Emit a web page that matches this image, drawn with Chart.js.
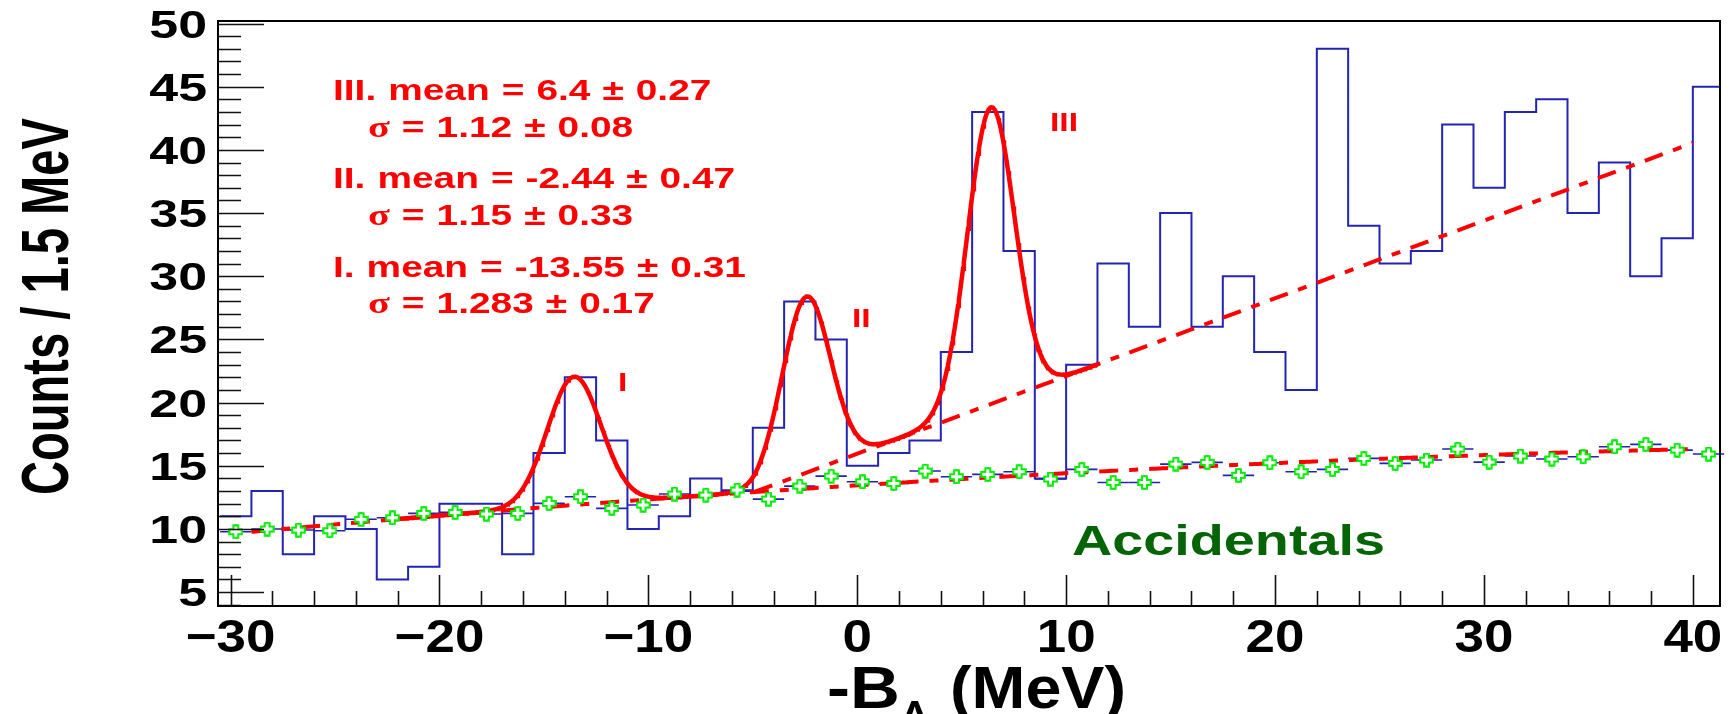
<!DOCTYPE html>
<html>
<head>
<meta charset="utf-8">
<title>-B_Λ spectrum</title>
<style>
  html, body { margin: 0; padding: 0; background: #ffffff; }
  canvas { display: block; }
</style>
<script src="https://cdn.jsdelivr.net/npm/chart.js@4.4.1/dist/chart.umd.min.js"></script>
</head>
<body>
<canvas id="spectrum" width="1735" height="714"></canvas>
<script>
// ---- Binning: 1.5 MeV bins, low edges ----
const binWidth = 1.5;
const binLowEdges = [-30.5, -29, -27.5, -26, -24.5, -23, -21.5, -20, -18.5, -17,
  -15.5, -14, -12.5, -11, -9.5, -8, -6.5, -5, -3.5, -2,
  -0.5, 1, 2.5, 4, 5.5, 7, 8.5, 10, 11.5, 13,
  14.5, 16, 17.5, 19, 20.5, 22, 23.5, 25, 26.5, 28,
  29.5, 31, 32.5, 34, 35.5, 37, 38.5, 40];

// ---- Measured counts per bin ----
const counts = [11, 13, 8, 11, 10, 6, 7, 12, 12, 8,
  16, 22, 17, 10, 11, 14, 13, 18, 28, 25,
  15, 16, 17, 24, 43, 32, 14, 23, 31, 26,
  35, 26, 30, 24, 21, 48, 34, 31, 32, 42,
  37, 43, 44, 35, 39, 30, 33, 45];

// ---- Accidental coincidences (scaled), with errors ----
const accidentals = [9.78, 9.99, 9.91, 9.86, 10.76, 10.88, 11.23, 11.31, 11.18, 11.23,
  12.02, 12.55, 11.63, 11.89, 12.76, 12.68, 13.08, 12.36, 13.39, 14.18,
  13.73, 13.6, 14.58, 14.13, 14.32, 14.53, 13.95, 14.71, 13.68, 13.68,
  15.13, 15.27, 14.24, 15.24, 14.53, 14.71, 15.58, 15.19, 15.45, 16.32,
  15.29, 15.77, 15.53, 15.71, 16.5, 16.69, 16.24, 15.93];
const accErrors = [0.55, 0.55, 0.55, 0.55, 0.55, 0.55, 0.55, 0.55, 0.55, 0.55,
  0.55, 0.55, 0.55, 0.55, 0.55, 0.55, 0.55, 0.55, 0.55, 0.55,
  0.55, 0.55, 0.55, 0.55, 0.55, 0.55, 0.55, 0.55, 0.55, 0.55,
  0.55, 0.55, 0.55, 0.55, 0.55, 0.55, 0.55, 0.55, 0.55, 0.55,
  0.55, 0.55, 0.55, 0.55, 0.55, 0.55, 0.55, 0.55];

// ---- Fit results: three Gaussian peaks on a background ----
const peakLabels = ['I', 'II', 'III'];
const peakMeans = [-13.55, -2.44, 6.4];
const peakMeanErrs = [0.31, 0.47, 0.27];
const peakSigmas = [1.283, 1.15, 1.12];
const peakSigmaErrs = [0.17, 0.33, 0.08];
const peakAmplitudes = [10.15, 13.93, 23.48];
const peakFitRange = [-22.4, 11.5];

// accidental background: p0 + p1*x + p2*x^2
const accFitCoeffs = [13.45, 0.1038, -0.0008];
const accFitRange = [-29, 40];
// physical background under the peaks: p0 + p1*x
const bgLineCoeffs = [15.95, 0.615];

// ---- Axes ----
const xTicks = [-30, -20, -10, 0, 10, 20, 30, 40];
const yTicks = [5, 10, 15, 20, 25, 30, 35, 40, 45, 50];
const xRange = [-30.6, 41.3];
const yRange = [3.9, 50.2];

// ---- Fit functions ----
const accFit = x => accFitCoeffs[0] + accFitCoeffs[1] * x + accFitCoeffs[2] * x * x;
const bgLine = x => bgLineCoeffs[0] + bgLineCoeffs[1] * x;
const gauss = (x, i) => peakAmplitudes[i] * Math.exp(-0.5 * Math.pow((x - peakMeans[i]) / peakSigmas[i], 2));
const totalFit = x => Math.max(accFit(x), bgLine(x)) + peakMeans.reduce((s, _, i) => s + gauss(x, i), 0);

function sample(fn, a, b, step) {
  const pts = [];
  const n = Math.round((b - a) / step);
  for (let k = 0; k <= n; k++) {
    const x = a + (b - a) * k / n;
    pts.push({ x, y: fn(x) });
  }
  return pts;
}

// histogram outline: left edges + closing right edge
const histPoints = binLowEdges.map((e, i) => ({ x: e, y: counts[i] }));
histPoints.push({ x: binLowEdges[binLowEdges.length - 1] + binWidth, y: counts[counts.length - 1] });

const accPoints = binLowEdges.map((e, i) => ({ x: e + binWidth / 2, y: accidentals[i] }));
const accCurve = sample(accFit, accFitRange[0], accFitRange[1], 0.1);
const fitCurve = sample(totalFit, peakFitRange[0], peakFitRange[1], 0.04);

// straight background, drawn from where it rises above the accidental curve
let bgStart = accFitRange[0];
for (let x = accFitRange[0]; x <= accFitRange[1]; x += 0.01) {
  if (bgLine(x) >= accFit(x)) { bgStart = x; break; }
}
const bgCurve = [{ x: bgStart, y: bgLine(bgStart) }, { x: accFitRange[1], y: bgLine(accFitRange[1]) }];

// ---- Colours / styles ----
const HIST_BLUE = '#2424b2';
const FIT_RED = '#ff0000';
const MARK_GREEN = '#00ee00';
const TEXT_GREEN = '#056405';
const DASH = [19, 11, 9, 11];

// open-cross marker
function makeOpenCross() {
  const c = document.createElement('canvas');
  c.width = 15; c.height = 15;
  const g = c.getContext('2d');
  const cx = 7.5, cy = 7.5, a = 2.4, r = 6.3;
  g.beginPath();
  g.moveTo(cx - a, cy - r); g.lineTo(cx + a, cy - r); g.lineTo(cx + a, cy - a);
  g.lineTo(cx + r, cy - a); g.lineTo(cx + r, cy + a); g.lineTo(cx + a, cy + a);
  g.lineTo(cx + a, cy + r); g.lineTo(cx - a, cy + r); g.lineTo(cx - a, cy + a);
  g.lineTo(cx - r, cy + a); g.lineTo(cx - r, cy - a); g.lineTo(cx - a, cy - a);
  g.closePath();
  g.fillStyle = '#ffffff';
  g.fill();
  g.strokeStyle = MARK_GREEN;
  g.lineWidth = 2;
  g.stroke();
  return c;
}

// ---- Text helper (scaled bold type) ----
function drawText(ctx, s, x, y, font, color, sx, sy, align) {
  ctx.save();
  ctx.translate(x, y);
  ctx.scale(sx || 1, sy || 1);
  ctx.font = font;
  ctx.fillStyle = color;
  ctx.textAlign = align || 'left';
  ctx.textBaseline = 'alphabetic';
  ctx.fillText(s, 0, 0);
  ctx.restore();
}
function textWidth(ctx, s, font) {
  ctx.save(); ctx.font = font; const w = ctx.measureText(s).width; ctx.restore(); return w;
}
// draw tokens in sequence with a fixed gap; returns end x
function drawTokens(ctx, tokens, x, y, color, sx, gap) {
  let cx = x;
  tokens.forEach(t => {
    drawText(ctx, t.s, cx, y, t.font, color, sx, 1, 'left');
    cx += textWidth(ctx, t.s, t.font) * sx + gap;
  });
  return cx;
}

const SANS = '"Liberation Sans", Arial, Helvetica, sans-serif';
const SERIF = '"Liberation Serif", "Times New Roman", serif';
const fmtTick = v => (v < 0 ? '\u2212' + Math.abs(v) : String(v));

// error bars for the accidental points
const errorBars = {
  id: 'errorBars',
  beforeDatasetsDraw(chart) {
    const { ctx, scales: { x, y } } = chart;
    ctx.save();
    ctx.strokeStyle = HIST_BLUE;
    ctx.lineWidth = 1.6;
    accPoints.forEach((p, i) => {
      const px = x.getPixelForValue(p.x);
      const py = y.getPixelForValue(p.y);
      ctx.beginPath();
      ctx.moveTo(x.getPixelForValue(p.x - binWidth / 2), py);
      ctx.lineTo(x.getPixelForValue(p.x + binWidth / 2), py);
      ctx.moveTo(px, y.getPixelForValue(p.y - accErrors[i]));
      ctx.lineTo(px, y.getPixelForValue(p.y + accErrors[i]));
      ctx.stroke();
    });
    ctx.restore();
  }
};

// frame, inward ticks, tick labels, titles and annotations
const frameAndText = {
  id: 'frameAndText',
  afterDraw(chart) {
    const { ctx, chartArea: ca, scales: { x, y } } = chart;
    ctx.save();
    // ticks
    ctx.strokeStyle = '#111111';
    ctx.lineWidth = 1.6;
    ctx.beginPath();
    for (let v = Math.ceil(yRange[0]); v <= yRange[1]; v++) {
      const py = Math.round(y.getPixelForValue(v)) + 0.5;
      const len = yTicks.includes(v) ? 46 : 23;
      ctx.moveTo(ca.left, py); ctx.lineTo(ca.left + len, py);
    }
    for (let v = xTicks[0]; v <= xRange[1]; v += 2) {
      const px = Math.round(x.getPixelForValue(v)) + 0.5;
      const len = xTicks.includes(v) ? 31 : 15;
      ctx.moveTo(px, ca.bottom); ctx.lineTo(px, ca.bottom - len);
    }
    ctx.stroke();
    // frame
    ctx.strokeStyle = '#000000';
    ctx.lineWidth = 2;
    ctx.strokeRect(ca.left, ca.top, ca.right - ca.left, ca.bottom - ca.top);
    ctx.restore();

    // tick labels
    const yTickFont = 'bold 39px ' + SANS;
    yTicks.forEach(v => {
      drawText(ctx, fmtTick(v), 207, y.getPixelForValue(v) + 14, yTickFont, '#000', 1.33, 1, 'right');
    });
    const xTickFont = 'bold 46px ' + SANS;
    xTicks.forEach(v => {
      drawText(ctx, fmtTick(v), x.getPixelForValue(v), 652, xTickFont, '#000', 1.15, 1, 'center');
    });

    // axis titles
    const yTitle = 'Counts / 1.5 MeV';
    const yFont = 'bold 50px ' + SANS;
    ctx.save();
    ctx.translate(68, 495);
    ctx.rotate(-Math.PI / 2);
    drawText(ctx, yTitle, 0, 0, yFont, '#000', 377 / textWidth(ctx, yTitle, yFont), 1.34, 'left');
    ctx.restore();

    const xFont = 'bold 60px ' + SANS;
    drawText(ctx, '-B', 827, 708, xFont, '#000', 1.15, 1, 'left');
    drawText(ctx, '\u039B', 900, 729, 'bold 40px ' + SANS, '#000', 1.1, 1, 'left');
    drawText(ctx, '(MeV)', 950, 708, xFont, '#000', 176 / textWidth(ctx, '(MeV)', xFont), 1, 'left');

    // fit results
    const rf = 'bold 29px ' + SANS;
    const sf = 'bold 30px ' + SERIF;
    const sx = 1.34, gap = 12;
    const meanBase = [276.7, 188.3, 100];
    const sigBase = [313.3, 225, 136.7];
    [2, 1, 0].forEach(i => {
      drawTokens(ctx, [
        { s: peakLabels[i] + '.', font: rf },
        { s: 'mean', font: rf },
        { s: '=', font: rf },
        { s: String(peakMeans[i]), font: rf },
        { s: '\u00B1', font: rf },
        { s: String(peakMeanErrs[i]), font: rf }
      ], 333, meanBase[i], FIT_RED, sx, gap);
      drawTokens(ctx, [
        { s: '\u03C3', font: sf },
        { s: '=', font: rf },
        { s: String(peakSigmas[i]), font: rf },
        { s: '\u00B1', font: rf },
        { s: String(peakSigmaErrs[i]), font: rf }
      ], 368, sigBase[i], FIT_RED, sx, gap);
    });

    // peak tags
    const tagFont = 'bold 26.5px ' + SANS;
    const tagPos = [[618, 390.7], [852, 326.7], [1050, 130.7]];
    peakLabels.forEach((t, i) => drawText(ctx, t, tagPos[i][0], tagPos[i][1], tagFont, FIT_RED, 1.27, 1, 'left'));

    // accidentals tag
    const aFont = 'bold 42px ' + SANS;
    drawText(ctx, 'Accidentals', 1072, 555, aFont, TEXT_GREEN, 313 / textWidth(ctx, 'Accidentals', aFont), 1, 'left');
  }
};

new Chart(document.getElementById('spectrum'), {
  type: 'line',
  data: {
    datasets: [
      {
        label: 'counts',
        data: histPoints,
        stepped: true,
        borderColor: HIST_BLUE,
        borderWidth: 2,
        pointRadius: 0,
        fill: false,
        order: 6
      },
      {
        label: 'accidental fit',
        data: accCurve,
        borderColor: FIT_RED,
        borderWidth: 4,
        borderDash: DASH,
        pointRadius: 0,
        fill: false,
        order: 5
      },
      {
        label: 'background',
        data: bgCurve,
        borderColor: FIT_RED,
        borderWidth: 4,
        borderDash: DASH,
        pointRadius: 0,
        fill: false,
        order: 4
      },
      {
        label: 'peak fit',
        data: fitCurve,
        borderColor: FIT_RED,
        borderWidth: 4.5,
        pointRadius: 0,
        fill: false,
        order: 3
      },
      {
        type: 'scatter',
        label: 'accidentals',
        data: accPoints,
        pointStyle: makeOpenCross(),
        pointRadius: 7,
        showLine: false,
        order: 1
      }
    ]
  },
  options: {
    responsive: false,
    animation: false,
    events: [],
    devicePixelRatio: 1,
    layout: { padding: { left: 218, right: 15, top: 21, bottom: 108 } },
    scales: {
      x: { type: 'linear', min: xRange[0], max: xRange[1], display: false },
      y: { type: 'linear', min: yRange[0], max: yRange[1], display: false }
    },
    plugins: {
      legend: { display: false },
      tooltip: { enabled: false },
      title: { display: false }
    }
  },
  plugins: [errorBars, frameAndText]
});
</script>
</body>
</html>
